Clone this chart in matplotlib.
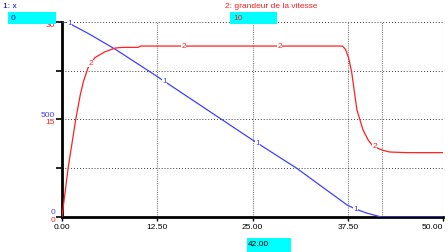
import matplotlib
matplotlib.use("Agg")
import matplotlib.pyplot as plt
import matplotlib.transforms as mtransforms
import numpy as np

# series 1: x (left scale 0..1000)
t_x = [0, 0.7, 3.5, 7, 12.2, 25, 30.8, 37.4, 38.5, 40, 41.7, 42, 50]
x_val = [1000, 998, 940, 860, 728, 395, 250, 62, 41, 20, 2, 0, 0]

# series 2: grandeur de la vitesse (scale 0..30)
t_v = [0, 0.8, 1.8, 2.4, 2.8, 3.4, 4.3, 5.6, 7.0, 8.0, 10, 10.3, 36.8, 37.2,
       37.6, 38, 38.7, 39.5, 40.2, 40.8, 42, 43, 45.3, 50]
v_val = [0, 7.5, 15, 18.8, 20.8, 22.9, 24.5, 25.4, 26.0, 26.1, 26.1, 26.3, 26.3, 25.8,
         24.5, 22.4, 16.5, 13.4, 11.8, 10.9, 10.3, 10.0, 9.9, 9.9]

x_ticks = [0, 12.5, 25, 37.5, 50]
x_ticklabels = ["0.00", "12.50", "25.00", "37.50", "50.00"]
x_levels = [0, 500, 1000]
v_levels = [0, 15, 30]
lab1_t = [1, 13.5, 25.7, 38.5]
lab2_t = [3.8, 16, 28.6, 41]
cursor = 42.00

BLUE = "#4040ff"
RED = "#ff2020"
CYAN = "#00ffff"
FS = 6

plt.rcParams["font.family"] = ["Liberation Sans", "DejaVu Sans"]
fig = plt.figure(figsize=(4.48, 2.52), dpi=100)
ax = fig.add_axes([62 / 448, 35 / 252, 381 / 448, 195 / 252])
ax2 = ax.twinx()

ax.set_xlim(0, 50)
ax.set_ylim(0, 1000)
ax2.set_ylim(0, 30)

# grid
for t in x_ticks[1:] + [cursor]:
    ax.axvline(t, color="#808080", lw=0.8, ls=(0, (1, 1)), zorder=0)
for y in [250, 500, 750, 1000]:
    ax.axhline(y, color="black", lw=0.6, ls=(0, (1, 2.5)), zorder=0)

ax.plot(t_x, x_val, color=BLUE, lw=0.9, zorder=3)
ax2.plot(t_v, v_val, color=RED, lw=0.9, zorder=3)

for t in lab1_t:
    ax.text(t, np.interp(t, t_x, x_val), "1", color=BLUE, fontsize=FS,
            ha="center", va="center", zorder=4,
            bbox=dict(fc="white", ec="none", pad=0.2))
for t in lab2_t:
    ax2.text(t, np.interp(t, t_v, v_val), "2", color=RED, fontsize=FS,
             ha="center", va="center", zorder=4,
             bbox=dict(fc="white", ec="none", pad=0.2))

# axes frame
for a in (ax, ax2):
    for s in ["top", "right"]:
        a.spines[s].set_visible(False)
ax2.spines["left"].set_visible(False)
ax2.spines["bottom"].set_visible(False)
ax.spines["left"].set_linewidth(2)
ax.spines["bottom"].set_linewidth(2)
ax2.set_yticks([])

ax.set_xticks(x_ticks)
ax.set_xticklabels(x_ticklabels, fontsize=FS)
ax.get_xticklabels()[-1].set_ha("right")
ax.tick_params(axis="x", length=3, width=1, pad=2)
ax.set_yticks([0, 250, 500, 750, 1000])
ax.set_yticklabels([])
ax.tick_params(axis="y", length=4, width=1.2)

# stacked scale labels on the left
tr = mtransforms.blended_transform_factory(ax.transAxes, ax.transData)
off_up = mtransforms.offset_copy(tr, fig=fig, x=-5, y=3, units="points")
off_dn = mtransforms.offset_copy(tr, fig=fig, x=-5, y=-2.5, units="points")
for xl, vl in zip(x_levels, v_levels):
    ax.text(0, xl, str(xl), transform=off_up, color=BLUE, fontsize=FS,
            ha="right", va="center", clip_on=False)
    ax.text(0, vl * 1000 / 30, str(vl), transform=off_dn, color=RED,
            fontsize=FS, ha="right", va="center", clip_on=False)

# header labels and value boxes
fig.text(3 / 448, 1 - 7 / 252, "1: x", color="#0000c0", fontsize=FS, va="center")
fig.text(225 / 448, 1 - 7 / 252, "2: grandeur de la vitesse", color=RED,
         fontsize=FS, va="center")
fig.patches.append(plt.Rectangle((8 / 448, 1 - 24 / 252), 48 / 448, 12 / 252,
                                 transform=fig.transFigure, fc=CYAN, ec="none", zorder=5))
fig.text(11 / 448, 1 - 18 / 252, "0", color="#0000c0", fontsize=FS, va="center", zorder=6)
fig.patches.append(plt.Rectangle((230 / 448, 1 - 24 / 252), 47 / 448, 12 / 252,
                                 transform=fig.transFigure, fc=CYAN, ec="none", zorder=5))
fig.text(233 / 448, 1 - 18 / 252, "10", color=RED, fontsize=FS, va="center", zorder=6)
fig.patches.append(plt.Rectangle((247 / 448, 0), 44 / 448, 14 / 252,
                                 transform=fig.transFigure, fc=CYAN, ec="none", zorder=5))
fig.text(248 / 448, 7 / 252, "%.2f" % cursor, color="black", fontsize=FS,
         va="center", zorder=6)

fig.savefig("out.png", dpi=100)
